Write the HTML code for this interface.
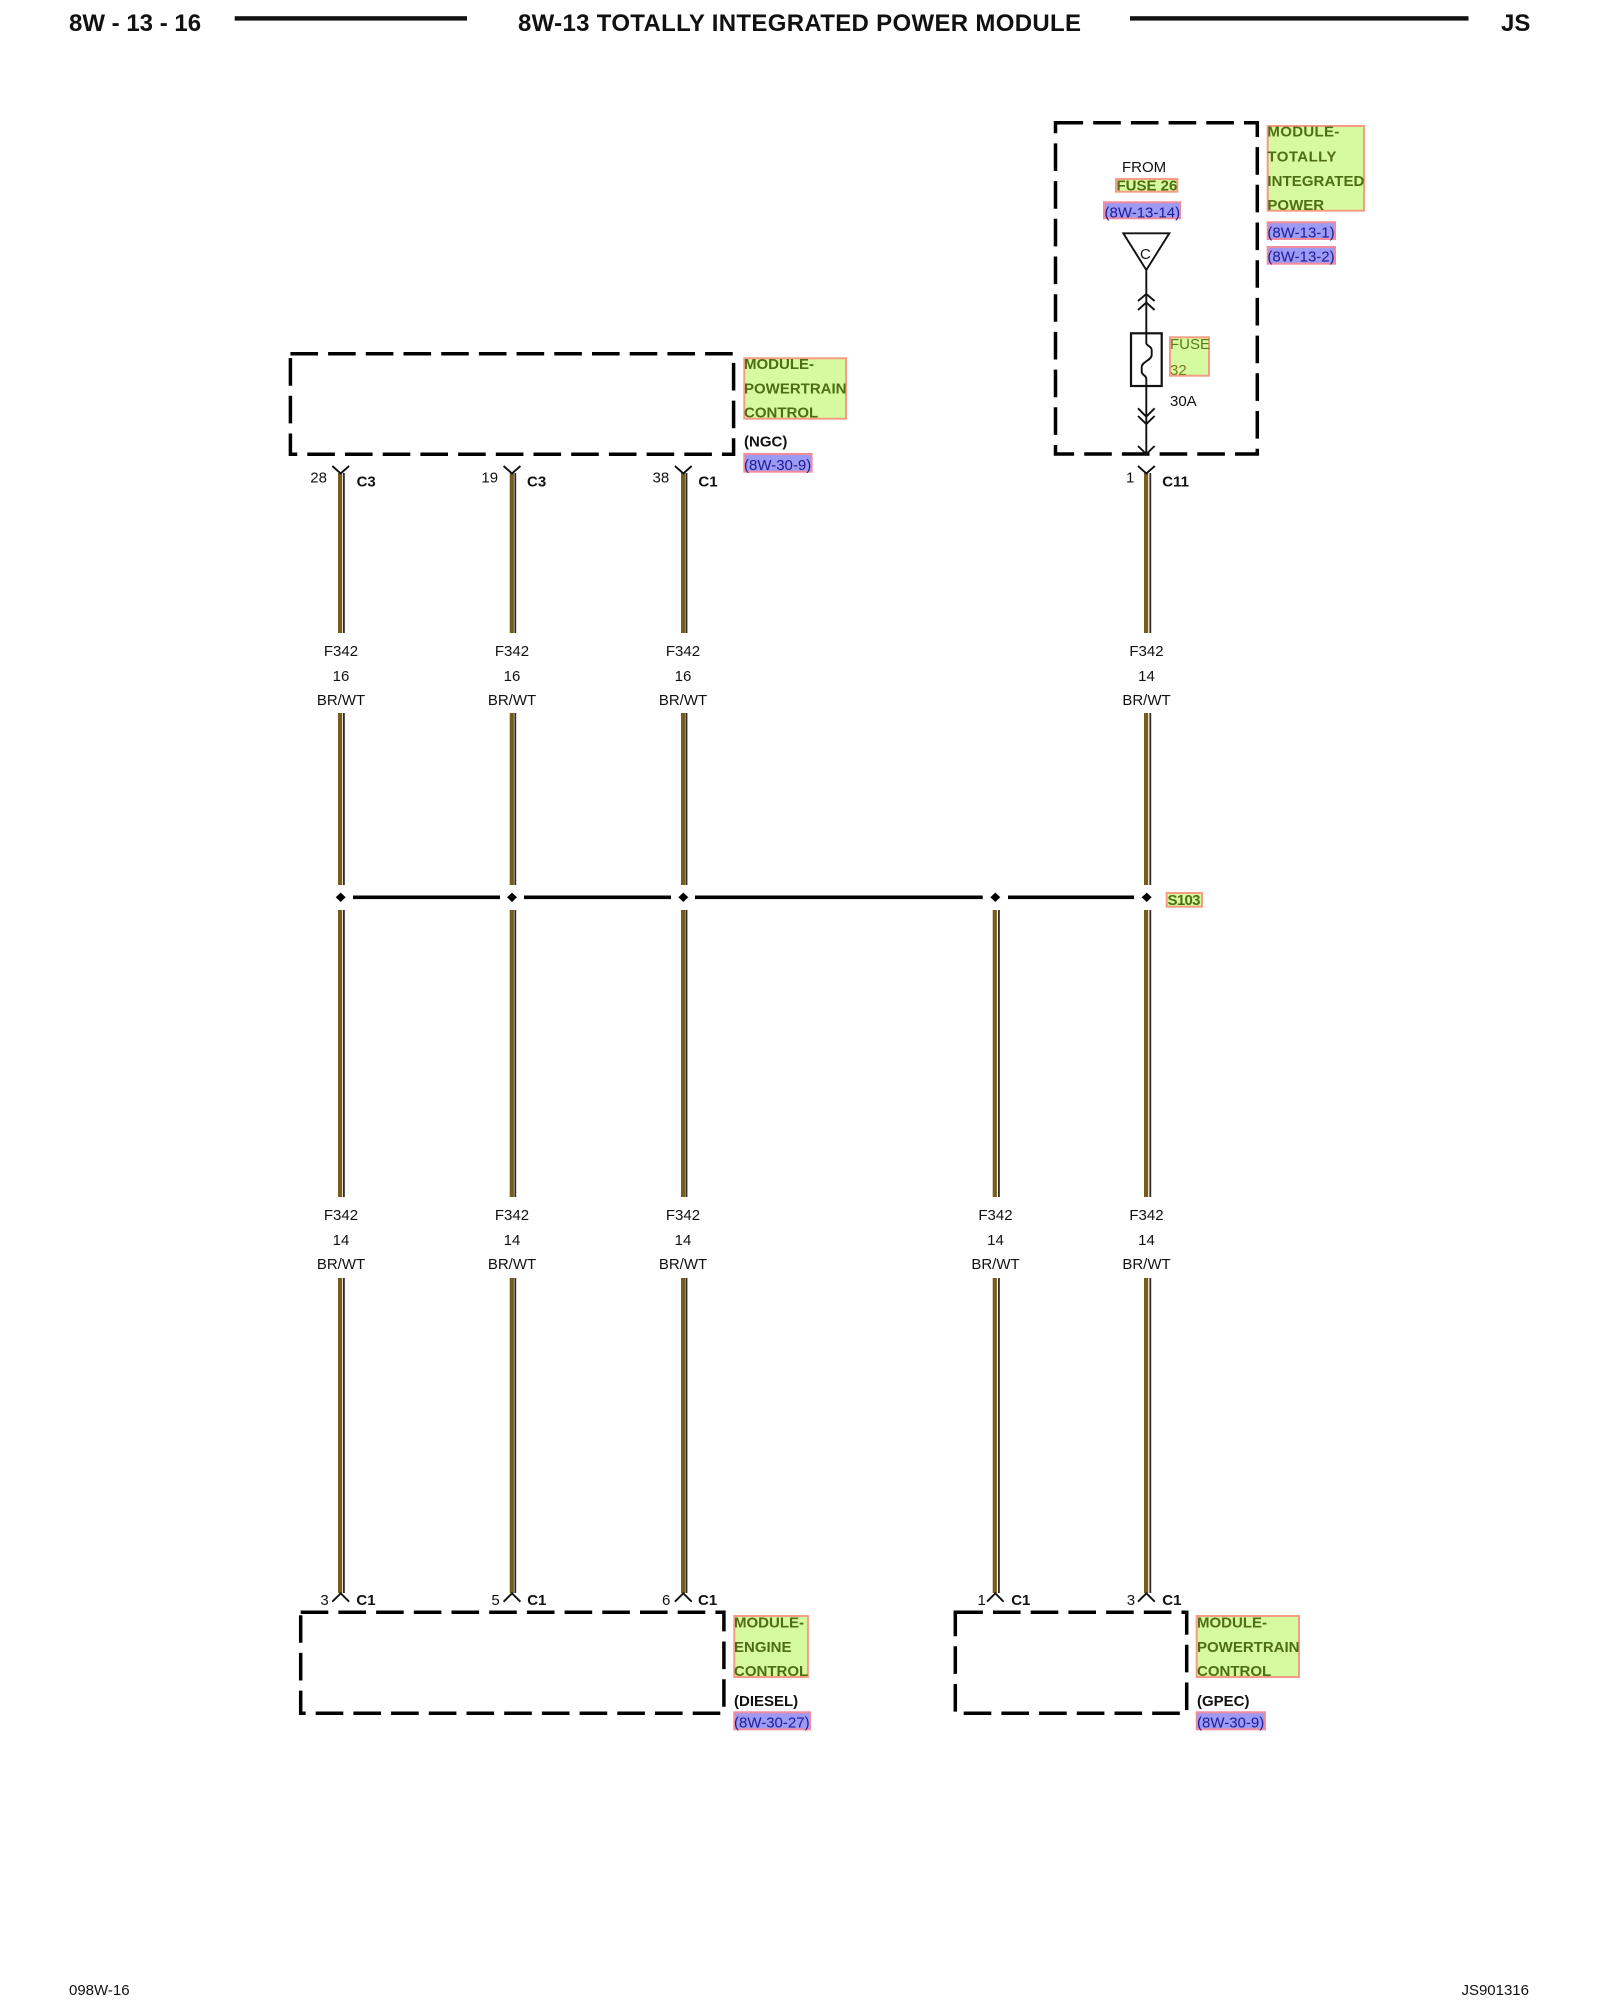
<!DOCTYPE html>
<html>
<head>
<meta charset="utf-8">
<style>
html,body{margin:0;padding:0;background:#fff;}
svg{display:block;}
text{font-family:"Liberation Sans",sans-serif;font-size:15px;fill:#111;}
.b{font-weight:bold;}
.g{font-weight:bold;fill:#4f6d12;}
.p{fill:#1c1c98;}
.gb{fill:#d6fa9f;stroke:#f49c84;stroke-width:2;}
.pb{fill:#9c9af2;stroke:#f08ca0;stroke-width:2;}
.d{fill:none;stroke:#000;stroke-width:3.5;stroke-dasharray:27.6 10.1;}
.l{fill:none;stroke:#111;stroke-width:1.9;}
.m{text-anchor:middle;}
.h{font-size:24px;font-weight:bold;fill:#111;}
</style>
</head>
<body>
<svg width="1600" height="2000" viewBox="0 0 1600 2000" xmlns="http://www.w3.org/2000/svg">
<rect width="1600" height="2000" fill="#fff"/>

<!-- header -->
<text class="h" x="69" y="31">8W - 13 - 16</text>
<text class="h" x="518" y="31" textLength="563">8W-13 TOTALLY INTEGRATED POWER MODULE</text>
<text class="h" x="1501" y="31">JS</text>
<rect x="234.7" y="16.2" width="232.3" height="4.4" fill="#111"/>
<rect x="1130" y="16.2" width="338.5" height="4.4" fill="#111"/>

<!-- footer -->
<text x="69" y="1995">098W-16</text>
<text x="1529" y="1995" text-anchor="end">JS901316</text>

<!-- dashed boxes -->
<rect class="d" x="1055.5" y="122.7" width="201.8" height="331.3"/>
<rect class="d" x="290.4" y="353.7" width="443.2" height="100.6"/>
<rect class="d" x="300.7" y="1612.3" width="423.2" height="101"/>
<rect class="d" x="955.3" y="1612.3" width="231.4" height="101"/>

<!-- wires: brown + dark -->
<g fill="#7a5c1a">
<rect x="338" y="473" width="4.2" height="160"/><rect x="338" y="713" width="4.2" height="172"/><rect x="338" y="910" width="4.2" height="287"/><rect x="338" y="1278" width="4.2" height="315"/>
<rect x="509.7" y="473" width="4.2" height="160"/><rect x="509.7" y="713" width="4.2" height="172"/><rect x="509.7" y="910" width="4.2" height="287"/><rect x="509.7" y="1278" width="4.2" height="315"/>
<rect x="681" y="473" width="4.2" height="160"/><rect x="681" y="713" width="4.2" height="172"/><rect x="681" y="910" width="4.2" height="287"/><rect x="681" y="1278" width="4.2" height="315"/>
<rect x="992.7" y="910" width="4.2" height="287"/><rect x="992.7" y="1278" width="4.2" height="315"/>
<rect x="1144" y="473" width="4.2" height="160"/><rect x="1144" y="713" width="4.2" height="172"/><rect x="1144" y="910" width="4.2" height="287"/><rect x="1144" y="1278" width="4.2" height="315"/>
</g>
<g fill="#2b2b2b">
<rect x="343" y="473" width="1.8" height="160"/><rect x="343" y="713" width="1.8" height="172"/><rect x="343" y="910" width="1.8" height="287"/><rect x="343" y="1278" width="1.8" height="315"/>
<rect x="514.4" y="473" width="1.8" height="160"/><rect x="514.4" y="713" width="1.8" height="172"/><rect x="514.4" y="910" width="1.8" height="287"/><rect x="514.4" y="1278" width="1.8" height="315"/>
<rect x="685.6" y="473" width="1.8" height="160"/><rect x="685.6" y="713" width="1.8" height="172"/><rect x="685.6" y="910" width="1.8" height="287"/><rect x="685.6" y="1278" width="1.8" height="315"/>
<rect x="998" y="910" width="1.8" height="287"/><rect x="998" y="1278" width="1.8" height="315"/>
<rect x="1149.4" y="473" width="1.8" height="160"/><rect x="1149.4" y="713" width="1.8" height="172"/><rect x="1149.4" y="910" width="1.8" height="287"/><rect x="1149.4" y="1278" width="1.8" height="315"/>
</g>

<!-- horizontal bus -->
<g fill="#000">
<rect x="353" y="895.5" width="147" height="3.6"/>
<rect x="524" y="895.5" width="147" height="3.6"/>
<rect x="695" y="895.5" width="287.7" height="3.6"/>
<rect x="1008" y="895.5" width="126" height="3.6"/>
<polygon points="340.7,892.6 345.7,897.3 340.7,902 335.7,897.3"/>
<polygon points="512,892.6 517,897.3 512,902 507,897.3"/>
<polygon points="683.3,892.6 688.3,897.3 683.3,902 678.3,897.3"/>
<polygon points="995.3,892.6 1000.3,897.3 995.3,902 990.3,897.3"/>
<polygon points="1146.7,892.6 1151.7,897.3 1146.7,902 1141.7,897.3"/>
</g>

<!-- wire labels top -->
<g>
<text class="m" x="341" y="656">F342</text><text class="m" x="341" y="681">16</text><text class="m" x="341" y="705">BR/WT</text>
<text class="m" x="512" y="656">F342</text><text class="m" x="512" y="681">16</text><text class="m" x="512" y="705">BR/WT</text>
<text class="m" x="683" y="656">F342</text><text class="m" x="683" y="681">16</text><text class="m" x="683" y="705">BR/WT</text>
<text class="m" x="1146.5" y="656">F342</text><text class="m" x="1146.5" y="681">14</text><text class="m" x="1146.5" y="705">BR/WT</text>
</g>
<!-- wire labels lower -->
<g>
<text class="m" x="341" y="1220">F342</text><text class="m" x="341" y="1245">14</text><text class="m" x="341" y="1269">BR/WT</text>
<text class="m" x="512" y="1220">F342</text><text class="m" x="512" y="1245">14</text><text class="m" x="512" y="1269">BR/WT</text>
<text class="m" x="683" y="1220">F342</text><text class="m" x="683" y="1245">14</text><text class="m" x="683" y="1269">BR/WT</text>
<text class="m" x="995.5" y="1220">F342</text><text class="m" x="995.5" y="1245">14</text><text class="m" x="995.5" y="1269">BR/WT</text>
<text class="m" x="1146.5" y="1220">F342</text><text class="m" x="1146.5" y="1245">14</text><text class="m" x="1146.5" y="1269">BR/WT</text>
</g>

<!-- top connectors -->
<g class="l">
<path d="M332.3 466 L340.7 473.5 L349.1 466"/>
<path d="M503.6 466 L512 473.5 L520.4 466"/>
<path d="M674.9 466 L683.3 473.5 L691.7 466"/>
<path d="M1138 466 L1146.4 473.5 L1154.8 466"/>
<!-- bottom connectors -->
<path d="M332.3 1601.7 L340.7 1593.3 L349.1 1601.7"/>
<path d="M503.6 1601.7 L512 1593.3 L520.4 1601.7"/>
<path d="M674.9 1601.7 L683.3 1593.3 L691.7 1601.7"/>
<path d="M987 1601.7 L995.3 1593.3 L1003.6 1601.7"/>
<path d="M1138 1601.7 L1146.4 1593.3 L1154.8 1601.7"/>
<!-- TIPM internals -->
<polygon points="1123.3,233.3 1169.3,233.3 1146.3,270"/>
<path d="M1146.3 270 V333.3 M1146.3 386 V454"/>
<path d="M1138 301 L1146.3 294 L1154.6 301"/>
<path d="M1138 310 L1146.3 302.5 L1154.6 310"/>
<path d="M1138 408.3 L1146.3 416.7 L1154.6 408.3"/>
<path d="M1138 416 L1146.3 424 L1154.6 416"/>
<path d="M1138 446 L1146.3 454 L1154.6 446"/>
<path d="M1146.3 333.3 V343 C1146.3 346 1151.7 346 1151.7 350 V355 C1151.7 360 1141.7 362 1141.7 367 V372 C1141.7 375 1146.3 375 1146.3 379 V386"/>
</g>
<rect x="1131" y="333.3" width="30.7" height="52.7" fill="none" stroke="#111" stroke-width="2.2"/>

<!-- pin numbers / connector names -->
<text x="310.3" y="482.7">28</text><text class="b" x="356.6" y="486.7">C3</text>
<text x="481.4" y="482.7">19</text><text class="b" x="527" y="486.7">C3</text>
<text x="652.5" y="482.7">38</text><text class="b" x="698.4" y="486.7">C1</text>
<text x="1126" y="482.7">1</text><text class="b" x="1162.3" y="486.7">C11</text>
<text x="320.4" y="1605">3</text><text class="b" x="356.4" y="1605">C1</text>
<text x="491.4" y="1605">5</text><text class="b" x="527.2" y="1605">C1</text>
<text x="662" y="1605">6</text><text class="b" x="698" y="1605">C1</text>
<text x="977.5" y="1605">1</text><text class="b" x="1011.2" y="1605">C1</text>
<text x="1126.7" y="1605">3</text><text class="b" x="1162.3" y="1605">C1</text>

<!-- TIPM inner labels -->
<text x="1122" y="172">FROM</text>
<rect class="gb" x="1116" y="179" width="61.3" height="12.7"/>
<text class="g" x="1116.5" y="190.6">FUSE 26</text>
<rect class="pb" x="1104" y="202.3" width="76" height="16"/>
<text class="p" x="1104.5" y="217.6">(8W-13-14)</text>
<text x="1140" y="259">C</text>
<rect class="gb" x="1170" y="337.3" width="39" height="38.4"/>
<text x="1170" y="349" style="fill:#5a7a1a">FUSE</text>
<text x="1170" y="375" style="fill:#7a7a20">32</text>
<text x="1170" y="406">30A</text>

<!-- TIPM side labels -->
<rect class="gb" x="1267.7" y="126" width="96.3" height="84.7"/>
<text class="g" x="1267.4" y="136.4" textLength="72">MODULE-</text>
<text class="g" x="1267.4" y="161.6" textLength="69">TOTALLY</text>
<text class="g" x="1267.4" y="186" textLength="97">INTEGRATED</text>
<text class="g" x="1267.4" y="210.2">POWER</text>
<rect class="pb" x="1267.7" y="222.3" width="67.3" height="16.7"/>
<text class="p" x="1267.4" y="237.6">(8W-13-1)</text>
<rect class="pb" x="1267.7" y="247" width="67.3" height="16.7"/>
<text class="p" x="1267.4" y="261.6">(8W-13-2)</text>

<!-- NGC labels -->
<rect class="gb" x="744.3" y="358.3" width="101.7" height="60.4"/>
<text class="g" x="744" y="369.2">MODULE-</text>
<text class="g" x="744" y="393.4">POWERTRAIN</text>
<text class="g" x="744" y="417.5">CONTROL</text>
<text class="b" x="744" y="446.4">(NGC)</text>
<rect class="pb" x="744.3" y="454" width="67.3" height="17.7"/>
<text class="p" x="744" y="469.8">(8W-30-9)</text>

<!-- S103 -->
<rect class="gb" x="1166.7" y="893" width="35.3" height="13.7"/>
<text class="g" x="1167.5" y="905" style="font-size:15px;" textLength="33">S103</text>

<!-- DIESEL labels -->
<rect class="gb" x="734.3" y="1616" width="73.6" height="61"/>
<text class="g" x="734" y="1627.6">MODULE-</text>
<text class="g" x="734" y="1652">ENGINE</text>
<text class="g" x="734" y="1676.2">CONTROL</text>
<text class="b" x="734" y="1705.8">(DIESEL)</text>
<rect class="pb" x="734.3" y="1712.3" width="75.7" height="17"/>
<text class="p" x="734" y="1727.5">(8W-30-27)</text>

<!-- GPEC labels -->
<rect class="gb" x="1196.7" y="1616" width="102.3" height="61"/>
<text class="g" x="1197" y="1627.6">MODULE-</text>
<text class="g" x="1197" y="1652">POWERTRAIN</text>
<text class="g" x="1197" y="1676.2">CONTROL</text>
<text class="b" x="1197" y="1705.8">(GPEC)</text>
<rect class="pb" x="1196.7" y="1712.3" width="68.3" height="17"/>
<text class="p" x="1197" y="1727.5">(8W-30-9)</text>
</svg>
</body>
</html>
